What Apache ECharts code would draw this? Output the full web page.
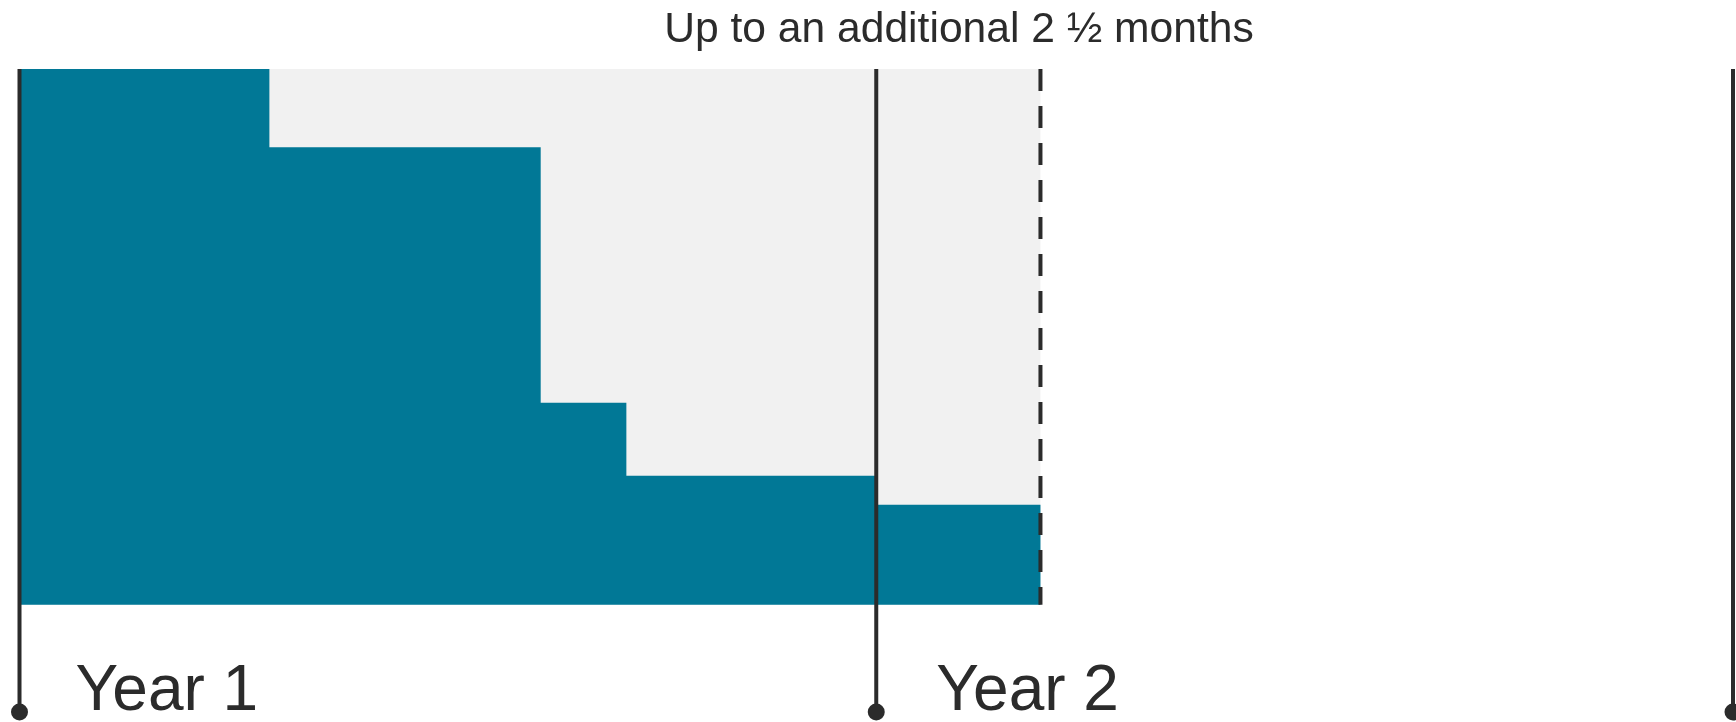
<!DOCTYPE html>
<html>
<head>
<meta charset="utf-8">
<script src="https://cdn.jsdelivr.net/npm/echarts@6/dist/echarts.min.js"></script>
<style>
  html, body { margin: 0; padding: 0; background: #fff; }
  #main { width: 1736px; height: 722px; }
</style>
</head>
<body>
<div id="main"></div>
<script>
// x in months from the start of year 1, y in % of the full amount
var stepX = [0, 3.5, 7.3, 8.5, 12, 14.3];
var stepValue = [100, 85.4, 37.7, 24.1, 18.7, 18.7];
var extraEnd = 14.3;          // end of the "additional 2 1/2 months"
var yearStarts = [0, 12, 24];
var yearLabels = ['Year 1', 'Year 2'];
var titleText = 'Up to an additional 2 \u00bd months';

var teal = '#017896', grey = '#f1f1f1', ink = '#2b2b2b';
var font = '"Liberation Sans", Arial, sans-serif';
var labelShift = [56, 60];

var stepData = [];
for (var i = 0; i < stepX.length; i++) {
    stepData.push([stepX[i], stepValue[i]]);
}

var myChart = echarts.init(document.getElementById('main'));
myChart.setOption({
    animation: false,
    title: {
        text: titleText,
        left: 959,
        top: 9,
        padding: 0,
        textAlign: 'center',
        textStyle: { fontFamily: font, fontSize: 42.6, fontWeight: 'normal', color: ink }
    },
    grid: { left: 19.5, right: 3, top: 69, bottom: 10 },
    xAxis: { type: 'value', min: 0, max: 24, show: false },
    yAxis: { type: 'value', min: -20, max: 100, show: false },
    series: [
        {
            // grey envelope behind the bars
            type: 'line',
            data: [[0, 100], [extraEnd, 100]],
            symbol: 'none',
            lineStyle: { width: 0 },
            areaStyle: { color: grey, opacity: 1 },
            z: 1
        },
        {
            type: 'line',
            step: 'end',
            data: stepData,
            symbol: 'none',
            lineStyle: { width: 0 },
            areaStyle: { color: teal, opacity: 1 },
            z: 2
        },
        {
            // dashed end of the extension
            type: 'custom',
            data: [extraEnd],
            clip: false,
            z: 3,
            renderItem: function (params, api) {
                var a = api.coord([api.value(0), 100]);
                var b = api.coord([api.value(0), 0]);
                return { type: 'line', shape: { x1: a[0], y1: a[1], x2: b[0], y2: b[1] },
                         style: { stroke: ink, lineWidth: 4, lineDash: [22, 15] } };
            }
        },
        {
            // year markers: line, dot and label
            type: 'custom',
            data: yearStarts,
            clip: false,
            z: 4,
            renderItem: function (params, api) {
                var x = api.value(0);
                var top = api.coord([x, 100]);
                var bot = api.coord([x, -20]);
                var kids = [
                    { type: 'line', shape: { x1: top[0], y1: top[1], x2: bot[0], y2: bot[1] },
                      style: { stroke: ink, lineWidth: 4 } },
                    { type: 'circle', shape: { cx: bot[0], cy: bot[1], r: 8.5 }, style: { fill: ink } }
                ];
                var label = yearLabels[params.dataIndex];
                if (label) {
                    kids.push({ type: 'text', x: bot[0] + labelShift[params.dataIndex], y: bot[1] + 12,
                        style: { text: label, font: '64px ' + font, fill: ink,
                                 align: 'left', verticalAlign: 'bottom' } });
                }
                return { type: 'group', children: kids };
            }
        }
    ]
});
</script>
</body>
</html>
